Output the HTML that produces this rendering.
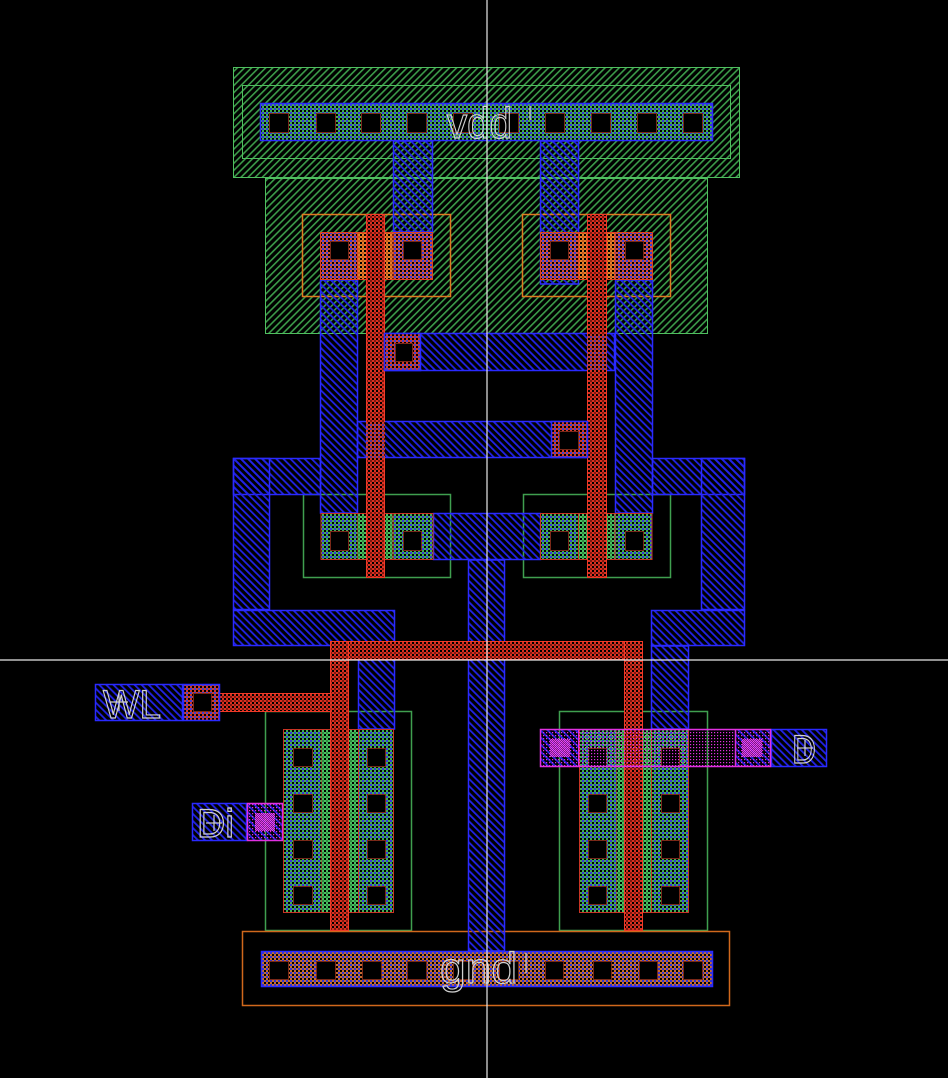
<!DOCTYPE html>
<html><head><meta charset="utf-8"><style>html,body{margin:0;padding:0;background:#000;}svg{display:block;}</style></head>
<body>
<svg xmlns="http://www.w3.org/2000/svg" width="948" height="1078" viewBox="0 0 948 1078">
<defs>
<pattern id="nw" width="5" height="5" patternUnits="userSpaceOnUse" patternTransform="rotate(45)"><rect width="1.6" height="5" fill="#3c9c4a"/></pattern>
<pattern id="m1" width="5" height="5" patternUnits="userSpaceOnUse" patternTransform="rotate(-45)"><rect width="1.8" height="5" fill="#2222e6"/></pattern>
<pattern id="pm" width="4" height="4" patternUnits="userSpaceOnUse"><rect width="4" height="4" fill="#000"/><rect width="2" height="2" fill="#d0503c"/><rect x="2" y="2" width="2" height="2" fill="#d0503c"/><rect x="2" width="2" height="2" fill="#3a3ad8"/></pattern>
<pattern id="nm" width="4" height="4" patternUnits="userSpaceOnUse"><rect width="4" height="4" fill="#000"/><rect width="2" height="2" fill="#3eae52"/><rect x="2" y="2" width="2" height="2" fill="#3eae52"/><rect x="2" width="2" height="2" fill="#3636dc"/></pattern>
<pattern id="gb" width="4" height="4" patternUnits="userSpaceOnUse"><rect width="4" height="4" fill="#000"/><rect width="2" height="2" fill="#c86c30"/><rect x="2" y="2" width="2" height="2" fill="#c86c30"/><rect x="2" width="2" height="2" fill="#3434d0"/></pattern>
<pattern id="pc" width="4" height="4" patternUnits="userSpaceOnUse"><rect width="4" height="4" fill="#000"/><rect width="2" height="2" fill="#e88028"/><rect x="2" y="2" width="2" height="2" fill="#e88028"/><rect x="2" width="2" height="2" fill="#c05a20"/></pattern>
<pattern id="nc" width="4" height="4" patternUnits="userSpaceOnUse"><rect width="4" height="4" fill="#000"/><rect width="2" height="2" fill="#48c060"/><rect x="2" y="2" width="2" height="2" fill="#48c060"/><rect x="2" width="2" height="2" fill="#2e8a40"/></pattern>
<pattern id="po" width="4" height="4" patternUnits="userSpaceOnUse"><rect width="4" height="4" fill="#000"/><rect width="2" height="2" fill="#d83020"/><rect x="2" y="2" width="2" height="2" fill="#d83020"/><rect x="2" width="2" height="2" fill="#801810"/></pattern>
<pattern id="pp" width="4" height="4" patternUnits="userSpaceOnUse"><rect width="4" height="4" fill="#000"/><rect width="2" height="2" fill="#d03828"/><rect x="2" y="2" width="2" height="2" fill="#d03828"/><rect x="2" width="2" height="2" fill="#4040d0"/></pattern>
<pattern id="mg" width="3" height="3" patternUnits="userSpaceOnUse"><rect width="1.2" height="1.2" fill="#e030e0"/></pattern>
<pattern id="mv" width="2" height="2" patternUnits="userSpaceOnUse"><rect width="2" height="2" fill="#8a1a9a"/><rect width="1" height="1" fill="#ff50ff"/><rect x="1" y="1" width="1" height="1" fill="#ff50ff"/></pattern>
</defs>
<rect width="948" height="1078" fill="#000"/>

<!-- nwell -->
<rect x="233.5" y="67.5" width="506" height="110" fill="url(#nw)" stroke="#4fbf5f"/>
<rect x="265.5" y="178.5" width="442" height="155" fill="url(#nw)" stroke="#4fbf5f"/>
<rect x="242.5" y="85.5" width="488" height="73" fill="none" stroke="#4fbf5f"/>

<!-- select outlines -->
<g fill="none" stroke-width="1.5">
<rect x="302.5" y="214.5" width="148" height="82" stroke="#e07a20"/>
<rect x="522.5" y="214.5" width="148" height="82" stroke="#e07a20"/>
<rect x="303.5" y="494.5" width="147" height="83" stroke="#3f9f4f"/>
<rect x="523.5" y="494.5" width="147" height="83" stroke="#3f9f4f"/>
<rect x="265.5" y="711.5" width="146" height="219" stroke="#3f9f4f"/>
<rect x="559.5" y="711.5" width="148" height="219" stroke="#3f9f4f"/>
<rect x="242.5" y="931.5" width="487" height="74" stroke="#d0681c"/>
</g>

<!-- metal1 -->
<g fill="url(#m1)" stroke="#2a2aff" stroke-width="1.5">
<rect x="393.5" y="141" width="39" height="91"/>
<rect x="540.5" y="141" width="38" height="143"/>
<rect x="320.5" y="280" width="37" height="233"/>
<rect x="615.5" y="280" width="37" height="233"/>
<rect x="384.5" y="333.5" width="230" height="37"/>
<rect x="357.5" y="421.5" width="230" height="36"/>
<rect x="233.5" y="458.5" width="87" height="36"/>
<rect x="233.5" y="458.5" width="36" height="151"/>
<rect x="233.5" y="610.5" width="161" height="35"/>
<rect x="358.5" y="646" width="36" height="83"/>
<rect x="652.5" y="458.5" width="92" height="36"/>
<rect x="701.5" y="458.5" width="43" height="151"/>
<rect x="651.5" y="610.5" width="93" height="35"/>
<rect x="651.5" y="646" width="37" height="83"/>
<rect x="433.5" y="513.5" width="107" height="46"/>
<rect x="468.5" y="560" width="36" height="391"/>
<rect x="95.5" y="684.5" width="87" height="36"/>
<rect x="192.5" y="803.5" width="54" height="37"/>
<rect x="771.5" y="729.5" width="55" height="37"/>
</g>

<!-- vdd / gnd bars -->
<rect x="260.5" y="103.5" width="452" height="37" fill="url(#nm)" stroke="#2a2aff" stroke-width="1.5"/>
<rect x="261.5" y="951.5" width="451" height="35" fill="url(#gb)" stroke="#2a2aff" stroke-width="1.5"/>

<!-- pmos diffusions -->
<g stroke="#e04020" stroke-width="1">
<rect x="320.5" y="232.5" width="37" height="47" fill="url(#pm)"/>
<rect x="358" y="232.5" width="35" height="47" fill="url(#pc)" stroke="none"/>
<rect x="393" y="232.5" width="39.5" height="47" fill="url(#pm)"/>
<rect x="540.5" y="232.5" width="38" height="47" fill="url(#pm)"/>
<rect x="579" y="232.5" width="36" height="47" fill="url(#pc)" stroke="none"/>
<rect x="615" y="232.5" width="37.5" height="47" fill="url(#pm)"/>
<rect x="320.5" y="232.5" width="112" height="47" fill="none"/>
<rect x="540.5" y="232.5" width="112" height="47" fill="none"/>
</g>
<!-- nmos diffusions -->
<g stroke="#c83424" stroke-width="1">
<rect x="321" y="513.5" width="37" height="46" fill="url(#nm)"/>
<rect x="358" y="513.5" width="35" height="46" fill="url(#nc)" stroke="none"/>
<rect x="393" y="513.5" width="40" height="46" fill="url(#nm)"/>
<rect x="540.5" y="513.5" width="38" height="46" fill="url(#nm)"/>
<rect x="579" y="513.5" width="36" height="46" fill="url(#nc)" stroke="none"/>
<rect x="615" y="513.5" width="37" height="46" fill="url(#nm)"/>
<rect x="321" y="513.5" width="112" height="46" fill="none"/>
<rect x="540.5" y="513.5" width="111.5" height="46" fill="none"/>
<rect x="283.5" y="729.5" width="38" height="183" fill="url(#nm)"/>
<rect x="321.5" y="729.5" width="37" height="183" fill="url(#nc)" stroke="none"/>
<rect x="358.5" y="729.5" width="35" height="183" fill="url(#nm)"/>
<rect x="283.5" y="729.5" width="110" height="183" fill="none"/>
<rect x="579.5" y="729.5" width="37" height="183" fill="url(#nm)"/>
<rect x="616.5" y="729.5" width="35" height="183" fill="url(#nc)" stroke="none"/>
<rect x="651.5" y="729.5" width="37" height="183" fill="url(#nm)"/>
<rect x="579.5" y="729.5" width="109" height="183" fill="none"/>
</g>

<!-- poly -->
<g fill="url(#po)" stroke="#f03a28" stroke-width="1">
<rect x="366.5" y="214.5" width="18" height="363"/>
<rect x="587.5" y="214.5" width="19" height="363"/>
<rect x="330.5" y="641.5" width="312" height="18"/>
<rect x="330.5" y="641.5" width="18" height="289"/>
<rect x="624.5" y="641.5" width="18" height="289"/>
<rect x="219" y="693.5" width="112" height="18"/>
</g>
<!-- poly contact pads -->
<g fill="url(#pp)" stroke="#2a2aff" stroke-width="1.5">
<rect x="384.5" y="333.5" width="36" height="37"/>
<rect x="551.5" y="421.5" width="36" height="36"/>
<rect x="183.5" y="684.5" width="36" height="36"/>
</g>
<g fill="url(#pp)" opacity="0.7">
<rect x="366" y="422" width="19" height="36"/>
<rect x="587" y="334" width="20" height="36"/>
</g>

<!-- contacts -->
<g fill="#000" stroke="#7a2818" stroke-width="1">
<rect x="269.5" y="113.5" width="19" height="19"/><rect x="316.5" y="113.5" width="19" height="19"/><rect x="361.5" y="113.5" width="19" height="19"/><rect x="407.5" y="113.5" width="19" height="19"/><rect x="453.5" y="113.5" width="19" height="19"/><rect x="499.5" y="113.5" width="19" height="19"/><rect x="545.5" y="113.5" width="19" height="19"/><rect x="591.5" y="113.5" width="19" height="19"/><rect x="637.5" y="113.5" width="19" height="19"/><rect x="683.5" y="113.5" width="19" height="19"/>
<rect x="269.5" y="961.5" width="19" height="18"/><rect x="316.5" y="961.5" width="19" height="18"/><rect x="362.5" y="961.5" width="19" height="18"/><rect x="407.5" y="961.5" width="19" height="18"/><rect x="453.5" y="961.5" width="19" height="18"/><rect x="499.5" y="961.5" width="19" height="18"/><rect x="545.5" y="961.5" width="18" height="18"/><rect x="593.5" y="961.5" width="18" height="18"/><rect x="639.5" y="961.5" width="18" height="18"/><rect x="683.5" y="961.5" width="19" height="18"/>
<rect x="330.5" y="241.5" width="18" height="18"/><rect x="403.5" y="241.5" width="18" height="18"/><rect x="550.5" y="241.5" width="18" height="18"/><rect x="625.5" y="241.5" width="18" height="18"/>
<rect x="330.5" y="531.5" width="18" height="19"/><rect x="403.5" y="531.5" width="18" height="19"/><rect x="550.5" y="531.5" width="18" height="19"/><rect x="625.5" y="531.5" width="18" height="19"/>
<rect x="293.5" y="748.5" width="19" height="18"/><rect x="367.5" y="748.5" width="18" height="18"/>
<rect x="293.5" y="794.5" width="19" height="18"/><rect x="367.5" y="794.5" width="18" height="18"/>
<rect x="293.5" y="840.5" width="19" height="18"/><rect x="367.5" y="840.5" width="18" height="18"/>
<rect x="293.5" y="886.5" width="19" height="18"/><rect x="367.5" y="886.5" width="18" height="18"/>
<rect x="588.5" y="748.5" width="18" height="18"/><rect x="661.5" y="748.5" width="18" height="18"/>
<rect x="588.5" y="794.5" width="18" height="18"/><rect x="661.5" y="794.5" width="18" height="18"/>
<rect x="588.5" y="840.5" width="18" height="18"/><rect x="661.5" y="840.5" width="18" height="18"/>
<rect x="588.5" y="886.5" width="18" height="18"/><rect x="661.5" y="886.5" width="18" height="18"/>
<rect x="395.5" y="343.5" width="17" height="18"/><rect x="559.5" y="431.5" width="19" height="18"/><rect x="193.5" y="693.5" width="18" height="18"/>
</g>

<!-- metal2 / vias -->
<rect x="247.5" y="803.5" width="35" height="37" fill="url(#m1)"/>
<rect x="247.5" y="803.5" width="35" height="37" fill="url(#mg)" stroke="#e030e0" stroke-width="1.5"/>
<rect x="255" y="813" width="20" height="18" fill="url(#mv)" opacity="0.85"/>
<rect x="540.5" y="729.5" width="38" height="37" fill="url(#m1)"/>
<rect x="735.5" y="729.5" width="35" height="37" fill="url(#m1)"/>
<rect x="540.5" y="729.5" width="230" height="37" fill="url(#mg)" stroke="#e030e0" stroke-width="1.5"/>
<line x1="735.5" y1="730" x2="735.5" y2="766" stroke="#e030e0" stroke-width="1.5"/>
<line x1="578.5" y1="730" x2="578.5" y2="766" stroke="#e030e0" stroke-width="1"/>
<rect x="550" y="739" width="20" height="18" fill="url(#mv)" opacity="0.85"/>
<rect x="742" y="739" width="20" height="18" fill="url(#mv)" opacity="0.85"/>

<!-- labels -->
<g font-family="Liberation Sans, DejaVu Sans, sans-serif" fill="none" stroke="#d0d0d0" stroke-width="1.2">
<text x="447" y="138" font-size="44" textLength="65" lengthAdjust="spacingAndGlyphs">vdd</text>
<text x="440" y="983" font-size="44" textLength="77" lengthAdjust="spacingAndGlyphs">gnd</text>
<text x="103" y="718" font-size="40" textLength="58" lengthAdjust="spacingAndGlyphs">WL</text>
<text x="197" y="837" font-size="40" textLength="37" lengthAdjust="spacingAndGlyphs">Di</text>
<text x="792" y="763" font-size="40" textLength="24" lengthAdjust="spacingAndGlyphs">D</text>
</g>
<g stroke="#d0d0d0" stroke-width="1.2">
<line x1="530" y1="106" x2="530" y2="120"/>
<line x1="526" y1="953" x2="526" y2="973"/>
<line x1="110" y1="702" x2="128" y2="702"/><line x1="119" y1="693" x2="119" y2="711"/>
<line x1="206" y1="823" x2="222" y2="823"/><line x1="214" y1="815" x2="214" y2="831"/>
<line x1="797" y1="748" x2="813" y2="748"/><line x1="805" y1="740" x2="805" y2="756"/>
</g>

<!-- crosshair -->
<line x1="487" y1="0" x2="487" y2="1078" stroke="#e8e8e8" stroke-width="1.2"/>
<line x1="0" y1="660" x2="948" y2="660" stroke="#e8e8e8" stroke-width="1.2"/>
</svg>
</body></html>
